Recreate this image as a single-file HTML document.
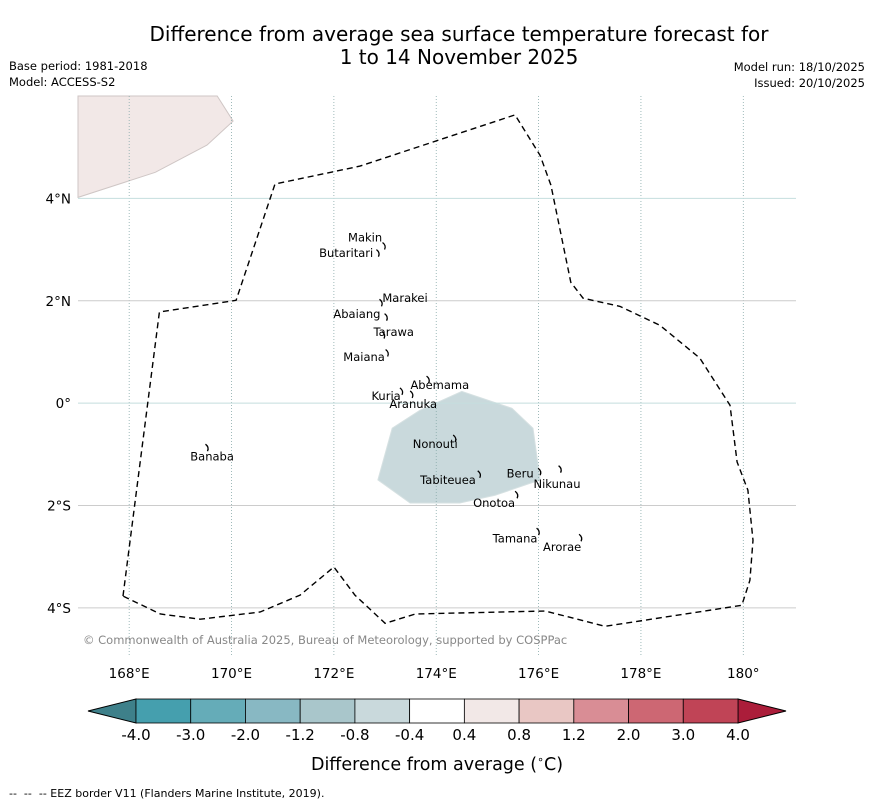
<!DOCTYPE html>
<html><head><meta charset="utf-8">
<style>
html,body{margin:0;padding:0;background:#fff;}
svg{display:block;font-family:"DejaVu Sans","Liberation Sans",sans-serif;}
</style></head>
<body>
<svg id="chart" width="873" height="804" viewBox="0 0 873 804" xmlns="http://www.w3.org/2000/svg">
<text x="459" y="41" font-size="20" text-anchor="middle">Difference from average sea surface temperature forecast for</text>
<text x="459" y="64" font-size="20" text-anchor="middle">1 to 14 November 2025</text>
<text x="9" y="70" font-size="11.5">Base period: 1981-2018</text>
<text x="9" y="86" font-size="11.5">Model: ACCESS-S2</text>
<text x="865" y="71" font-size="11.5" text-anchor="end">Model run: 18/10/2025</text>
<text x="865" y="87" font-size="11.5" text-anchor="end">Issued: 20/10/2025</text>
<g id="map"></g>
<text x="83" y="644" font-size="11.5" fill="#888">© Commonwealth of Australia 2025, Bureau of Meteorology, supported by COSPPac</text>
<g id="cbar"></g>
<text x="437" y="770" font-size="17.5" text-anchor="middle">Difference from average (<tspan font-size="11" dy="-7">∘</tspan><tspan dy="7">C)</tspan></text>
<text x="9" y="797" font-size="11" xml:space="preserve">--  --  -- EEZ border V11 (Flanders Marine Institute, 2019).</text>
</svg>
<script>
// ---- data ----
const lonTicks = [168,170,172,174,176,178,180];
const lonTickLabels = ["168°E","170°E","172°E","174°E","176°E","178°E","180°"];
const latTicks = [4,2,0,-2,-4];
const latTickLabels = ["4°N","2°N","0°","2°S","4°S"];
const eezLon = [167.88,168.59,170.09,170.85,172.51,175.54,176.03,176.24,176.63,176.87,177.59,178.37,179.15,179.74,179.88,180.09,180.19,180.13,179.97,177.30,176.13,173.59,173.00,172.41,172.00,171.34,170.56,169.39,168.61,167.88];
const eezLat = [-3.77,1.78,2.01,4.28,4.63,5.63,4.84,4.26,2.36,2.05,1.89,1.52,0.88,-0.04,-1.15,-1.70,-2.68,-3.46,-3.95,-4.36,-4.06,-4.12,-4.30,-3.75,-3.20,-3.75,-4.08,-4.22,-4.12,-3.77];
const coolLon = [172.86,173.14,173.68,174.50,175.48,175.89,176.03,175.15,174.46,173.49];
const coolLat = [-1.50,-0.49,-0.14,0.23,-0.10,-0.49,-1.50,-1.80,-1.95,-1.95];
const coolValue = -0.6;
const warmLon = [167.0,169.72,170.03,169.52,168.51,167.0];
const warmLat = [6.0,6.0,5.51,5.04,4.51,4.02];
const warmValue = 0.6;
const islandNames = ["Makin","Butaritari","Marakei","Abaiang","Tarawa","Maiana","Abemama","Kuria","Aranuka","Banaba","Nonouti","Tabiteuea","Beru","Nikunau","Onotoa","Tamana","Arorae"];
const islandLon = [172.61,172.24,173.39,172.45,173.17,172.59,174.07,173.02,173.55,169.62,173.98,174.23,175.64,176.36,175.13,175.54,176.46];
const islandLat = [3.24,2.93,2.05,1.74,1.39,0.90,0.35,0.14,-0.02,-1.04,-0.80,-1.50,-1.37,-1.58,-1.95,-2.64,-2.81];
const atollLon = [172.99,172.87,172.93,173.03,172.98,173.05,173.85,173.33,173.53,169.53,174.37,174.85,176.03,176.43,175.58,176.00,176.83];
const atollLat = [3.06,2.92,1.95,1.67,1.32,0.97,0.45,0.22,0.16,-0.88,-0.70,-1.40,-1.35,-1.30,-1.80,-2.52,-2.64];
const cbarBounds = ["-4.0","-3.0","-2.0","-1.2","-0.8","-0.4","0.4","0.8","1.2","2.0","3.0","4.0"];
const cbarColors = ["#459fae","#65acb8","#88b8c3","#a9c6cb","#c9d9dc","#ffffff","#f2e8e7","#e9c7c4","#d98d95","#cd6773","#c04456"];
const underColor = "#3e808a", overColor = "#ab1d3a";

// ---- axes ----
const X0=78,X1=796,Y0=96,Y1=655;
const LON0=167.0,LON1=181.03,LAT0=-4.92,LAT1=6.0;
const xs = lon => X0+(lon-LON0)/(LON1-LON0)*(X1-X0);
const ys = lat => Y0+(LAT1-lat)/(LAT1-LAT0)*(Y1-Y0);
const NS="http://www.w3.org/2000/svg";
function mk(tag,attrs,parent){const e=document.createElementNS(NS,tag);for(const k in attrs)e.setAttribute(k,attrs[k]);parent.appendChild(e);return e;}
function colorFor(v){const b=cbarBounds.map(Number);if(v<b[0])return underColor;for(let i=0;i<b.length-1;i++){if(v>=b[i]&&v<b[i+1])return cbarColors[i];}return overColor;}
const map=document.getElementById('map');
const pts=(lo,la)=>lo.map((l,i)=>xs(l).toFixed(1)+","+ys(la[i]).toFixed(1)).join(" ");

let p=mk('polygon',{points:pts(warmLon,warmLat),fill:colorFor(warmValue),stroke:"#cfc6c5","stroke-width":1},map);


p=mk('polygon',{points:pts(coolLon,coolLat),fill:colorFor(coolValue),stroke:"#d6e1e2","stroke-width":1},map);



lonTicks.forEach((lon,i)=>{
  const g=mk('line',{x1:xs(lon),x2:xs(lon),y1:Y0,y2:Y1,stroke:"#8aa","stroke-width":0.8,"stroke-dasharray":"1,2"},map);
  
  
  const t=mk('text',{x:xs(lon),y:678,"font-size":13.5,"text-anchor":"middle"},map);
  t.textContent=lonTickLabels[i];
  
  
});
latTicks.forEach((lat,i)=>{
  const g=mk('line',{x1:X0,x2:X1,y1:ys(lat),y2:ys(lat),stroke:(lat===4||lat===0)?"#c4dede":"#cccccc","stroke-width":1},map);
  
  
  const t=mk('text',{x:71,y:ys(lat)+5,"font-size":13.5,"text-anchor":"end"},map);
  t.textContent=latTickLabels[i];
  
  
});

p=mk('polyline',{points:pts(eezLon,eezLat),fill:"none",stroke:"#000","stroke-width":1.4,"stroke-dasharray":"6,4"},map);



atollLon.forEach((lon,i)=>{
  const x=xs(lon),y=ys(atollLat[i]);
  const a=mk('path',{d:`M${x-2},${y-4} q4,3 2,7`,fill:"none",stroke:"#000","stroke-width":1.3},map);
  
  
});
islandNames.forEach((n,i)=>{
  const t=mk('text',{x:xs(islandLon[i]),y:ys(islandLat[i])+4,"font-size":11.5,"text-anchor":"middle"},map);
  t.textContent=n;
  
  
});

// ---- colorbar ----
const cb=document.getElementById('cbar');
const CB0=136,CB1=738,CBy=699,CBh=24;
const n=cbarColors.length, w=(CB1-CB0)/n;
let tri=mk('polygon',{points:`${CB0},${CBy} ${88},${CBy+CBh/2} ${CB0},${CBy+CBh}`,fill:underColor,stroke:"#000","stroke-width":1},cb);


tri=mk('polygon',{points:`${CB1},${CBy} ${786},${CBy+CBh/2} ${CB1},${CBy+CBh}`,fill:overColor,stroke:"#000","stroke-width":1},cb);


cbarColors.forEach((c,i)=>{
  const r=mk('rect',{x:CB0+i*w,y:CBy,width:w,height:CBh,fill:c,stroke:"#000","stroke-width":0.8},cb);
  
  
});
cbarBounds.forEach((b,i)=>{
  const t=mk('text',{x:CB0+i*w,y:740,"font-size":15,"text-anchor":"middle"},cb);
  t.textContent=b;
  
  
});
</script>
</body></html>
